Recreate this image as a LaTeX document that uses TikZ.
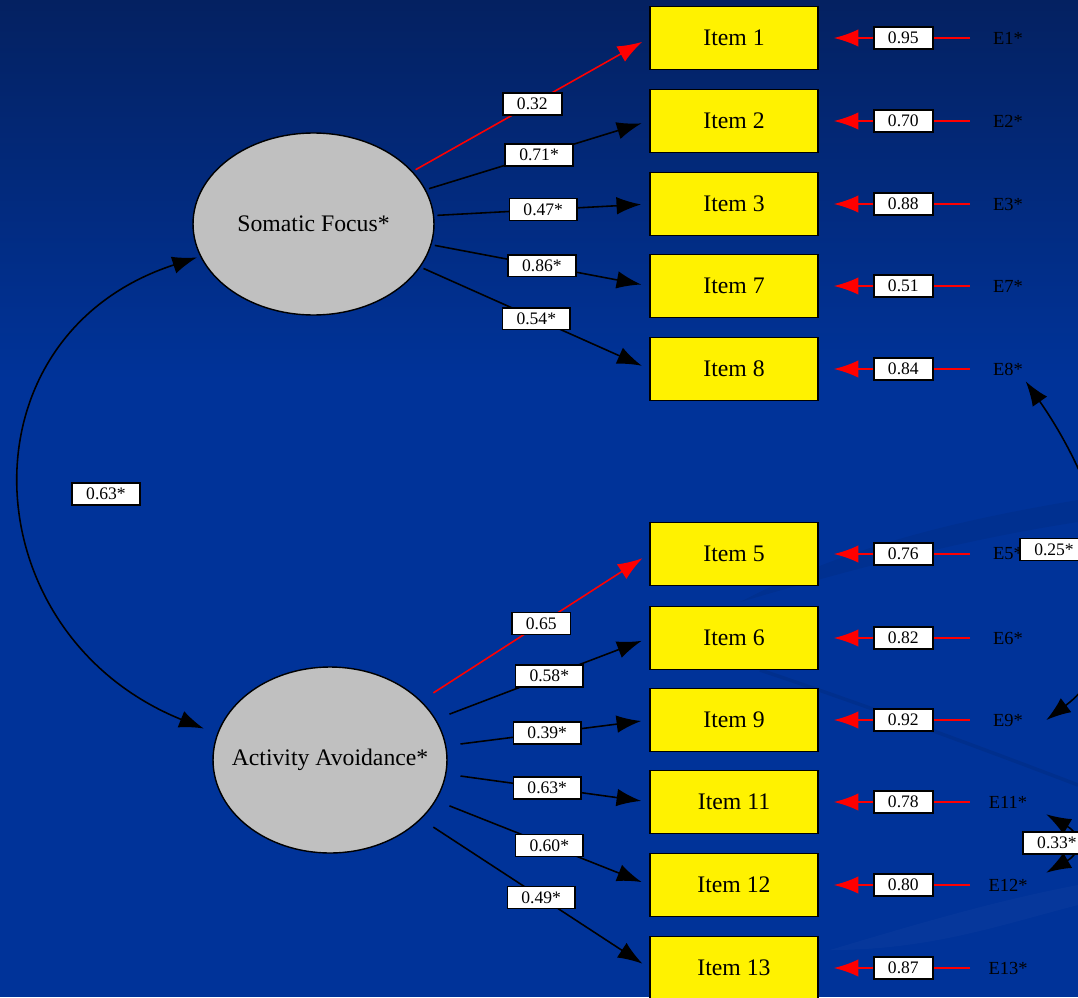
\documentclass[tikz,border=0pt]{standalone}
\usepackage{fontspec}
\setmainfont{Liberation Serif}
\usetikzlibrary{arrows.meta,shapes.geometric}

\definecolor{bgtop}{RGB}{4,33,97}
\definecolor{bgblue}{RGB}{0,51,153}
\definecolor{latgray}{RGB}{192,192,192}

\tikzset{
  latent/.style={ellipse, draw=black, line width=0.8pt, fill=latgray, inner xsep=-0.6cm,
    inner ysep=0pt, font=\fontsize{13.5}{16}\selectfont},
  item/.style={rectangle, draw=black, line width=1.1pt, fill=yellow, minimum width=3.36cm,
    minimum height=1.26cm, font=\fontsize{13.5}{16}\selectfont},
  errlab/.style={minimum width=1.52cm, text=black, font=\fontsize{10.5}{12}\selectfont},
  coef/.style={rectangle, draw=black, fill=white, text=black, line width=0.9pt, inner xsep=8pt,
    inner ysep=0pt, minimum height=12.5pt, font=\fontsize{10}{12}\selectfont},
  load/.style={line width=0.9pt, -{Latex[length=14pt,width=10pt]}, shorten >=4.5pt},
  fixed/.style={load, red},
  err/.style={line width=1pt, red, -{Latex[length=14pt,width=10pt]}, shorten >=8.5pt},
  cov/.style={line width=0.9pt, {Latex[length=14pt,width=10pt]}-{Latex[length=14pt,width=10pt]}}
}

\begin{document}
\begin{tikzpicture}[x=0.02cm,y=-0.02cm]

% slide background
\useasboundingbox (0,0) rectangle (1078,997);
\clip (0,0) rectangle (1078,997);
\shade[top color=bgtop, bottom color=bgblue] (0,0) rectangle (1078,380);
\fill[bgblue] (0,379) rectangle (1078,997);
\fill[black, opacity=0.06] (740,602) .. controls (850,545) and (960,520) .. (1078,500)
  -- (1078,522) .. controls (960,540) and (850,570) .. cycle;
\draw[black, opacity=0.08, line width=2pt] (760,670) .. controls (850,700) and (960,740) .. (1078,785);
\fill[white, opacity=0.025] (830,950) .. controls (930,920) and (1000,900) .. (1078,885)
  -- (1078,905) .. controls (1000,925) and (930,950) .. cycle;

% factors
\node[latent, minimum width=4.82cm, minimum height=3.64cm, outer sep=0.08cm] (sf) at (313.5,224) {Somatic Focus*};
\node[latent, minimum width=4.68cm, minimum height=3.72cm, outer sep=0.3cm] (aa) at (330,760) {Activity Avoidance*};

% items and errors
\foreach \n/\y/\r in {1/38/0.95, 2/121/0.70, 3/204/0.88, 7/286/0.51, 8/369/0.84,
  5/554/0.76, 6/638/0.82, 9/720/0.92, 11/802/0.78, 12/885/0.80, 13/968/0.87}{
  \node[item] (i\n) at (734,\y) {Item \n};
  \node[errlab] (e\n) at (1008,\y) {E\n*};
  \draw[err] (e\n) -- node[coef, pos=0.44] {\r} (i\n);
}

% loadings
\draw[fixed] (sf.28.6) -- node[coef] {0.32} (i1.west);
\draw[load] (sf.17.3) -- node[coef] {0.71*} (i2.west);
\draw[load] (sf.4.1) -- node[coef] {0.47*} (i3.west);
\draw[load] (sf.-10.1) -- node[coef] {0.86*} (i7.west);
\draw[load] (sf.-22.5) -- node[coef] {0.54*} (i8.west);

\draw[fixed] (aa.33.7) -- node[coef] {0.65} (i5.west);
\draw[load] (aa.21.2) -- node[coef] {0.58*} (i6.west);
\draw[load] (aa.7.7) -- node[coef, pos=0.46] {0.39*} (i9.west);
\draw[load] (aa.-7.8) -- node[coef, pos=0.46] {0.63*} (i11.west);
\draw[load] (aa.-21.2) -- node[coef] {0.60*} (i12.west);
\draw[load] (aa.-33.5) -- node[coef] {0.49*} (i13.west);

% covariances
\draw[cov] (sf.196) to[out=198, in=158, looseness=1.37] (aa.166);
\node[coef] (r1) at (106,494) {0.63*};

\draw[cov] (e8.-35) to[out=-55, in=37] (e9.east);
\node[coef] (r2) at (1054,549.5) {0.25*};

\draw[cov] (e11.south east) to[out=-30, in=30, looseness=1.8] (e12.north east);
\node[coef] (r3) at (1057,843) {0.33*};

\end{tikzpicture}
\end{document}
